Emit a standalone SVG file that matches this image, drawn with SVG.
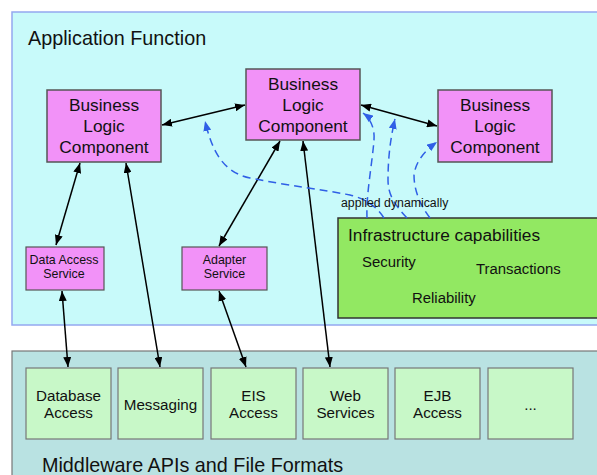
<svg xmlns="http://www.w3.org/2000/svg" width="597" height="475" viewBox="0 0 597 475">
<defs>
<marker id="ah" viewBox="0 0 10 8" refX="10" refY="4" markerWidth="10" markerHeight="8" markerUnits="userSpaceOnUse" orient="auto-start-reverse"><path d="M0,0 L10,4 L0,8 z" fill="#000"/></marker>
<marker id="bh" viewBox="0 0 10 8" refX="10" refY="4" markerWidth="10" markerHeight="8" markerUnits="userSpaceOnUse" orient="auto"><path d="M0,0 L10,4 L0,8 z" fill="#2f5fe6"/></marker>
<style>
text{font-family:"Liberation Sans",Arial,sans-serif;fill:#111}
.blc rect{fill:#f292f8;stroke:#555;stroke-width:1.5}
.blc text{font-size:17.3px;text-anchor:middle}
.svc rect{fill:#f292f8;stroke:#555;stroke-width:1.2}
.svc text{font-size:12.4px;text-anchor:middle}
.mw rect{fill:#c8f8c8;stroke:#777;stroke-width:1.2}
.mw text{font-size:15.2px;text-anchor:middle}
.c{stroke:#000;stroke-width:1.5;fill:none;marker-start:url(#ah);marker-end:url(#ah)}
.d{stroke:#2f5fe6;stroke-width:1.5;fill:none;stroke-dasharray:8 5;marker-end:url(#bh)}
</style>
</defs>
<rect width="597" height="475" fill="#fff"/>
<g id="app">
<rect x="12" y="12" width="600" height="313" fill="#c8fafa" stroke="#94a8f0" stroke-width="1.5"/>
<text x="28" y="45" font-size="19.8">Application Function</text>
</g>
<g id="middleware">
<rect x="12" y="351" width="600" height="140" fill="#b9e2e2" stroke="#777" stroke-width="1.2"/>
<text x="42" y="472" font-size="19.8">Middleware APIs and File Formats</text>
</g>
<g id="infra">
<rect x="338" y="218" width="270" height="100" fill="#92e862" stroke="#333" stroke-width="1.5"/>
<text x="348" y="241" font-size="17.3">Infrastructure capabilities</text>
<text x="362" y="267" font-size="14.9">Security</text>
<text x="476" y="274" font-size="14.9">Transactions</text>
<text x="412" y="303" font-size="14.9">Reliability</text>
</g>
<g id="blc1" class="blc"><rect x="47" y="90" width="114" height="72"/><text x="104" y="111">Business</text><text x="104" y="132">Logic</text><text x="104" y="153">Component</text></g>
<g id="blc2" class="blc"><rect x="246" y="69" width="114" height="71"/><text x="303" y="90">Business</text><text x="303" y="111">Logic</text><text x="303" y="132">Component</text></g>
<g id="blc3" class="blc"><rect x="438" y="90" width="114" height="72"/><text x="495" y="111">Business</text><text x="495" y="132">Logic</text><text x="495" y="153">Component</text></g>
<g id="das" class="svc"><rect x="26" y="247" width="78" height="43"/><text x="64" y="264">Data Access</text><text x="64" y="278">Service</text></g>
<g id="adapter" class="svc"><rect x="182" y="247" width="85" height="43"/><text x="224.5" y="264">Adapter</text><text x="224.5" y="278">Service</text></g>
<g id="mw-db" class="mw"><rect x="26" y="368" width="85" height="71"/><text x="68.5" y="401">Database</text><text x="68.5" y="418">Access</text></g>
<g id="mw-msg" class="mw"><rect x="118" y="368" width="85" height="71"/><text x="160.5" y="410">Messaging</text></g>
<g id="mw-eis" class="mw"><rect x="211" y="368" width="85" height="71"/><text x="253.5" y="401">EIS</text><text x="253.5" y="418">Access</text></g>
<g id="mw-ws" class="mw"><rect x="303" y="368" width="85" height="71"/><text x="345.5" y="401">Web</text><text x="345.5" y="418">Services</text></g>
<g id="mw-ejb" class="mw"><rect x="395" y="368" width="85" height="71"/><text x="437.5" y="401">EJB</text><text x="437.5" y="418">Access</text></g>
<g id="mw-more" class="mw"><rect x="488" y="368" width="85" height="71"/><text x="530.5" y="410" font-size="12">...</text></g>
<g id="connectors">
<line class="c" x1="162" y1="125" x2="245" y2="105"/>
<line class="c" x1="361" y1="105" x2="437" y2="126"/>
<line class="c" x1="80" y1="163" x2="56" y2="245"/>
<line class="c" x1="126" y1="163" x2="160" y2="367"/>
<line class="c" x1="280" y1="141" x2="219" y2="246"/>
<line class="c" x1="303" y1="141" x2="330" y2="367"/>
<line class="c" x1="62" y1="291" x2="68" y2="367"/>
<line class="c" x1="219" y1="291" x2="246" y2="367"/>
<path class="d" d="M384,218 C376,206 366,199 350,195 C320,189 290,186 250,178 C222,172 212,150 205,121"/>
<path class="d" d="M367,218 C366,195 372,165 374,140 C375,128 370,118 363,113"/>
<path class="d" d="M407,218 C396,206 388,196 388,180 C388,160 390,140 395,119"/>
<path class="d" d="M430,218 C420,205 414,190 414,175 C416,160 426,150 437,142"/>
<text x="341" y="207" font-size="12.3">applied dynamically</text>
</g>
</svg>
